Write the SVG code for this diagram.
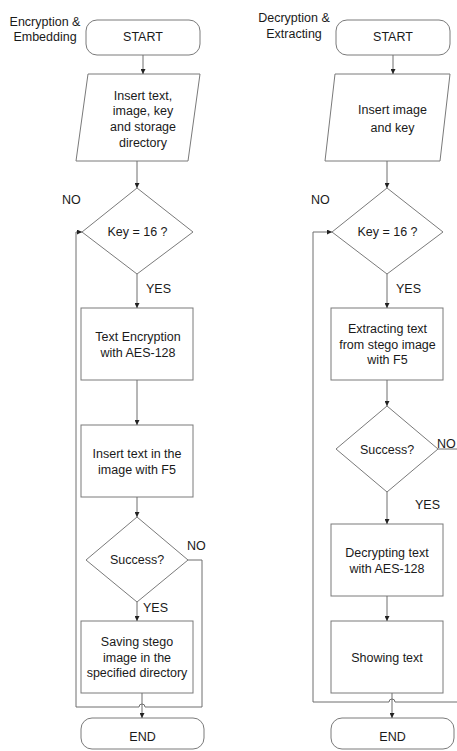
<svg xmlns="http://www.w3.org/2000/svg" width="457" height="751" viewBox="0 0 457 751">
  <style>
    .shape { fill: #fff; stroke: #7a7a7a; stroke-width: 1; }
    .wire { fill: none; stroke: #6e6e6e; stroke-width: 1; }
    text { font-family: "Liberation Sans", Arial, sans-serif; font-size: 12.5px; fill: #1a1a1a; }
    .c { text-anchor: middle; }
  </style>
  <defs>
    <marker id="arrow" viewBox="0 0 6 6" refX="6" refY="3" markerWidth="5" markerHeight="5" orient="auto" markerUnits="userSpaceOnUse">
      <path d="M0,0 L6,3 L0,6 Z" fill="#222"/>
    </marker>
  </defs>
  <rect width="457" height="751" fill="#fff"/>

  <!-- Left flow: encryption and embedding -->
  <g id="title-left">
    <text class="c" x="45" y="26">Encryption &amp;</text>
    <text class="c" x="45" y="41">Embedding</text>
  </g>
  <g id="start-left">
    <rect class="shape" x="86" y="20" width="114" height="35" rx="11"/>
    <text class="c" x="143" y="41">START</text>
  </g>
  <g id="input-left">
    <polygon class="shape" points="88,74 200,74 188,161 76,161"/>
    <text class="c" x="143" y="99.5">Insert text,</text>
    <text class="c" x="143" y="115">image, key</text>
    <text class="c" x="143" y="130.5">and storage</text>
    <text class="c" x="143" y="146.5">directory</text>
  </g>
  <g id="key-left">
    <polygon class="shape" points="137,188 193,232 137,274 82,232"/>
    <text class="c" x="137.5" y="236">Key = 16 ?</text>
  </g>
  <g id="encrypt-left">
    <rect class="shape" x="81" y="308" width="112" height="72"/>
    <text class="c" x="138" y="340.5">Text Encryption</text>
    <text class="c" x="138" y="356.5">with AES-128</text>
  </g>
  <g id="embed-left">
    <rect class="shape" x="81" y="425" width="112" height="72"/>
    <text class="c" x="137" y="457.5">Insert text in the</text>
    <text class="c" x="137" y="473.5">image with F5</text>
  </g>
  <g id="success-left">
    <polygon class="shape" points="137,517 188,560 137,602 86,560"/>
    <text class="c" x="137" y="563.5">Success?</text>
  </g>
  <g id="save-left">
    <rect class="shape" x="81" y="621" width="112" height="72"/>
    <text class="c" x="137" y="646">Saving stego</text>
    <text class="c" x="137" y="662">image in the</text>
    <text class="c" x="137" y="677">specified directory</text>
  </g>
  <g id="end-left">
    <rect class="shape" x="81" y="718" width="123" height="31" rx="11"/>
    <text class="c" x="142.5" y="741">END</text>
  </g>

  <!-- Right flow: decryption and extracting -->
  <g id="title-right">
    <text class="c" x="294" y="22">Decryption &amp;</text>
    <text class="c" x="294" y="37.5">Extracting</text>
  </g>
  <g id="start-right">
    <rect class="shape" x="336" y="20" width="114" height="35" rx="11"/>
    <text class="c" x="393" y="41">START</text>
  </g>
  <g id="input-right">
    <polygon class="shape" points="335,74 450,74 440,161 325,161"/>
    <text class="c" x="392.5" y="113.5">Insert image</text>
    <text class="c" x="392.5" y="131.5">and key</text>
  </g>
  <g id="key-right">
    <polygon class="shape" points="387,188 443,232 387,274 332,232"/>
    <text class="c" x="387.5" y="236">Key = 16 ?</text>
  </g>
  <g id="extract-right">
    <rect class="shape" x="331" y="308" width="112" height="72"/>
    <text class="c" x="387.5" y="333">Extracting text</text>
    <text class="c" x="387.5" y="348.5">from stego image</text>
    <text class="c" x="387.5" y="363.5">with F5</text>
  </g>
  <g id="success-right">
    <polygon class="shape" points="387,406 438,449 387,492 336,449"/>
    <text class="c" x="387" y="454">Success?</text>
  </g>
  <g id="decrypt-right">
    <rect class="shape" x="331" y="524" width="112" height="72"/>
    <text class="c" x="387" y="557">Decrypting text</text>
    <text class="c" x="387" y="572.5">with AES-128</text>
  </g>
  <g id="show-right">
    <rect class="shape" x="331" y="621" width="112" height="72"/>
    <text class="c" x="387" y="661.5">Showing text</text>
  </g>
  <g id="end-right">
    <rect class="shape" x="331" y="718" width="123" height="31" rx="11"/>
    <text class="c" x="392.5" y="741">END</text>
  </g>

  <!-- Connectors -->
  <g id="connectors">
    <!-- left -->
    <path class="wire" d="M143,55 V74" marker-end="url(#arrow)"/>
    <path class="wire" d="M137,161 V188" marker-end="url(#arrow)"/>
    <path class="wire" d="M137,274 V308" marker-end="url(#arrow)"/>
    <path class="wire" d="M137,380 V425" marker-end="url(#arrow)"/>
    <path class="wire" d="M137,497 V517" marker-end="url(#arrow)"/>
    <path class="wire" d="M137,602 V621" marker-end="url(#arrow)"/>
    <path class="wire" d="M142,693 V718" marker-end="url(#arrow)"/>
    <path class="wire" d="M188,560 H202 V707 H145 A3,3 0 0 0 139,707 H76 V232 H82" marker-end="url(#arrow)"/>
    <!-- right -->
    <path class="wire" d="M393,55 V74" marker-end="url(#arrow)"/>
    <path class="wire" d="M387,161 V188" marker-end="url(#arrow)"/>
    <path class="wire" d="M387,274 V308" marker-end="url(#arrow)"/>
    <path class="wire" d="M387,380 V406" marker-end="url(#arrow)"/>
    <path class="wire" d="M387,492 V524" marker-end="url(#arrow)"/>
    <path class="wire" d="M387,596 V621" marker-end="url(#arrow)"/>
    <path class="wire" d="M392,693 V718" marker-end="url(#arrow)"/>
    <path class="wire" d="M438,449 H462 V702 H395 A3,3 0 0 0 389,702 H313 V232 H332" marker-end="url(#arrow)"/>
  </g>

  <!-- Branch labels -->
  <g id="labels">
    <text x="62" y="203.5">NO</text>
    <text x="146" y="292.5">YES</text>
    <text x="187" y="550">NO</text>
    <text x="143" y="612">YES</text>
    <text x="311" y="203.5">NO</text>
    <text x="396" y="292.5">YES</text>
    <text x="437" y="447.5">NO</text>
    <text x="415" y="508.5">YES</text>
  </g>
</svg>
